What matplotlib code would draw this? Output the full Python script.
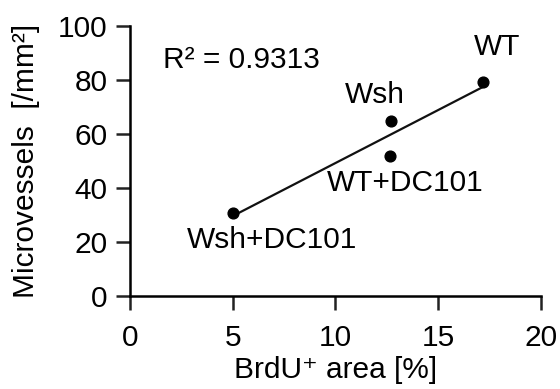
import numpy as np
import matplotlib.pyplot as plt

plt.rcParams['font.family'] = ['Liberation Sans', 'DejaVu Sans']

groups = ['WT', 'Wsh', 'WT+DC101', 'Wsh+DC101']
brdu = [17.2, 12.7, 12.65, 5.0]
vessels = [79.3, 64.8, 51.9, 30.7]
r2_text = 'R² = 0.9313'

# label offsets in data units (dx, dy)
offsets = {'WT': (0.65, 13), 'Wsh': (-0.8, 9.8), 'WT+DC101': (0.75, -10), 'Wsh+DC101': (1.9, -10)}

fs = 21.5

fig = plt.figure(figsize=(5.6, 3.89), dpi=100)
ax = fig.add_axes([0.232, 0.239, 0.734, 0.694])

slope, icpt = np.polyfit(brdu, vessels, 1)
xs = np.array([min(brdu), max(brdu)])
ax.plot(xs, slope * xs + icpt, color='#111111', lw=1.6, zorder=2)
ax.scatter(brdu, vessels, s=60, color='black', zorder=3)

for g, x, y in zip(groups, brdu, vessels):
    dx, dy = offsets[g]
    ax.text(x + dx, y + dy, g, ha='center', va='center', fontsize=fs)

ax.text(1.6, 87.5, r2_text, ha='left', va='center', fontsize=fs)

ax.set_xlim(0, 20)
ax.set_ylim(0, 100)
ax.set_xticks([0, 5, 10, 15, 20])
ax.set_yticks([0, 20, 40, 60, 80, 100])
ax.spines['top'].set_visible(False)
ax.spines['right'].set_visible(False)
for s in ('left', 'bottom'):
    ax.spines[s].set_linewidth(1.8)
ax.tick_params(direction='out', length=10, width=1.8, labelsize=fs, pad=6, color='#222222')
ax.tick_params(axis='x', pad=10)
ax.set_xlabel('BrdU⁺ area [%]', fontsize=fs, labelpad=3)
ax.set_ylabel('Microvessels  [/mm²]', fontsize=fs, labelpad=13)

plt.savefig('out.png', dpi=100)
